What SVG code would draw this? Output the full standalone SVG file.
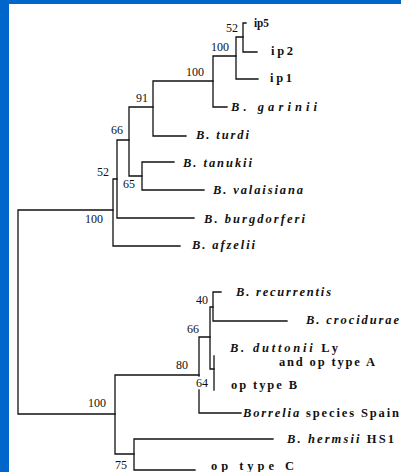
<svg xmlns="http://www.w3.org/2000/svg" width="401" height="472" viewBox="0 0 401 472">
<style>
.lbl{font-family:"Liberation Serif","Times New Roman",serif;font-weight:bold;font-style:italic;font-size:12.5px;fill:#111}
.lbl .r{font-style:normal}
.up{font-family:"Liberation Serif","Times New Roman",serif;font-weight:bold;font-style:normal;font-size:12.5px;fill:#111}
.bs{font-family:"Liberation Serif","Times New Roman",serif;font-size:12px;fill:#111}
.br{fill:none;stroke:#111;stroke-width:1.3;stroke-linecap:square}
</style>
<rect x="0" y="0" width="401" height="472" fill="#ffffff"/>
<rect x="0" y="0" width="401" height="4" fill="#0066CC"/>
<rect x="0" y="0" width="9" height="472" fill="#0066CC"/>
<g id="connectors" class="br">
<path d="M18,210 V414 M18,210 H113 M18,414 H115"/>
<path d="M113,179 V246 M113,179 H117 M113,246 H180"/>
<path d="M117,140 V218 M117,140 H129 M117,218 H194"/>
<path d="M129,107 V176 M129,107 H153 M129,176 H142"/>
<path d="M142,162 V190 M142,162 H174 M142,190 H204"/>
<path d="M153,81 V136 M153,81 H213 M153,136 H186"/>
<path d="M213,56 V107 M213,56 H236 M213,107 H227"/>
<path d="M236,37 V79 M236,37 H243 M236,79 H258"/>
<path d="M243,23 V52 M243,23 H246 M243,52 H257"/>
<path d="M115,375 V454 M115,375 H199 M115,454 H134"/>
<path d="M199,337 V376 M199,390 V413 M199,337 H210 M199,413 H241"/>
<path d="M210,307 V369 M210,307 H213 M210,369 H214"/>
<path d="M213,292 V321 M213,292 H221 M213,321 H287"/>
<path d="M214,356 V390"/>
<path d="M134,439 V470 M134,439 H273 M134,470 H195"/>
</g>
<g id="n_lyme"><text class="bs" x="85" y="223">100</text></g>
<g id="n52b"><text class="bs" x="97" y="176">52</text></g>
<g id="n66a"><text class="bs" x="111" y="134">66</text></g>
<g id="n65"><text class="bs" x="123" y="188">65</text></g>
<g id="n91"><text class="bs" x="136" y="102">91</text></g>
<g id="n100b"><text class="bs" x="186" y="75.5">100</text></g>
<g id="n100a"><text class="bs" x="211" y="50.5">100</text></g>
<g id="n52a"><text class="bs" x="226" y="32">52</text></g>
<g id="n100c"><text class="bs" x="88" y="407">100</text></g>
<g id="n80"><text class="bs" x="176" y="368.5">80</text></g>
<g id="n66b"><text class="bs" x="187" y="333">66</text></g>
<g id="n40"><text class="bs" x="196" y="304">40</text></g>
<g id="n64"><text class="bs" x="196" y="387">64</text></g>
<g id="n75"><text class="bs" x="115" y="469">75</text></g>
<g id="ip5"><text class="up" x="254" y="26.5" textLength="15" lengthAdjust="spacingAndGlyphs">ip5</text></g>
<g id="ip2"><text class="up" x="271" y="54.5" textLength="22" lengthAdjust="spacing">ip2</text></g>
<g id="ip1"><text class="up" x="270" y="81.5" textLength="22" lengthAdjust="spacing">ip1</text></g>
<g id="garinii"><text class="lbl" x="231" y="111" textLength="86" lengthAdjust="spacing">B. garinii</text></g>
<g id="turdi"><text class="lbl" x="196" y="139" textLength="53" lengthAdjust="spacing">B. turdi</text></g>
<g id="tanukii"><text class="lbl" x="183" y="166.5" textLength="69" lengthAdjust="spacing">B. tanukii</text></g>
<g id="valaisiana"><text class="lbl" x="213" y="194" textLength="90" lengthAdjust="spacing">B. valaisiana</text></g>
<g id="burgdorferi"><text class="lbl" x="204" y="222.5" textLength="101" lengthAdjust="spacing">B. burgdorferi</text></g>
<g id="afzelii"><text class="lbl" x="192" y="249" textLength="63" lengthAdjust="spacing">B. afzelii</text></g>
<g id="recurrentis"><text class="lbl" x="236" y="295.5" textLength="95" lengthAdjust="spacing">B. recurrentis</text></g>
<g id="crocidurae"><text class="lbl" x="306" y="324" textLength="93" lengthAdjust="spacing">B. crocidurae</text></g>
<g id="duttonii"><text class="lbl" x="230" y="352" textLength="108" lengthAdjust="spacing">B. duttonii <tspan class="r">Ly</tspan></text><text class="up" x="279" y="366" textLength="96" lengthAdjust="spacing">and op type A</text></g>
<g id="optypeB"><text class="up" x="231" y="389" textLength="66" lengthAdjust="spacing">op type B</text></g>
<g id="spain"><text class="lbl" x="243" y="417" textLength="156" lengthAdjust="spacing">Borrelia <tspan class="r">species Spain</tspan></text></g>
<g id="hermsii"><text class="lbl" x="287" y="442.5" textLength="107" lengthAdjust="spacing">B. hermsii <tspan class="r">HS1</tspan></text></g>
<g id="optypeC"><text class="up" x="211" y="470" textLength="83" lengthAdjust="spacing">op type C</text></g>
</svg>
